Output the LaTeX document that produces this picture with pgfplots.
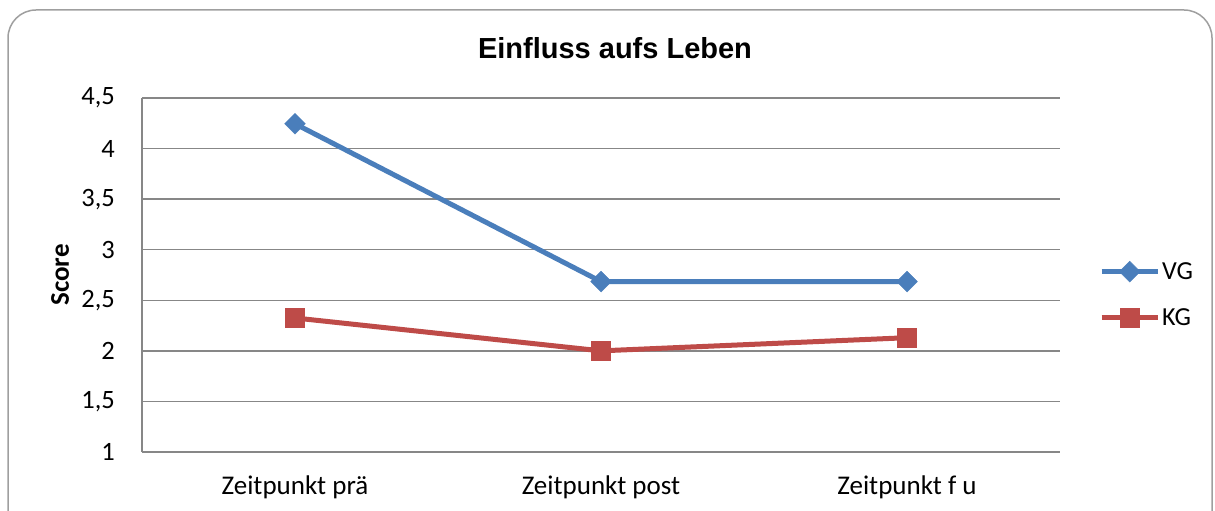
\documentclass[border=0pt]{standalone}
\usepackage{pgfplots}
\pgfplotsset{compat=1.18}
\usepackage{fontspec}
\setmainfont{Carlito}
\newfontfamily\titlefont{Liberation Sans}
\definecolor{vgblue}{HTML}{4A7EBB}
\definecolor{kgred}{HTML}{BE4B48}
\definecolor{gridgray}{HTML}{878787}
\begin{document}
\begin{tikzpicture}
\useasboundingbox (0pt,0pt) rectangle (1215pt,511pt);
\begin{scope}
\clip (0pt,0pt) rectangle (1215pt,511pt);
\draw[gridgray!80, line width=1.5pt, rounded corners=28pt] (8pt,-40pt) rectangle (1212pt,501pt);
\end{scope}
\begin{axis}[
  at={(142pt,59pt)}, anchor=south west,
  scale only axis, width=918pt, height=354pt,
  xmin=-0.5, xmax=2.5, ymin=1, ymax=4.5,
  xtick={0,1,2}, xticklabels={Zeitpunkt prä, Zeitpunkt post, Zeitpunkt f u},
  ytick={1,1.5,2,2.5,3,3.5,4,4.5},
  yticklabels={1,{1,5},2,{2,5},3,{3,5},4,{4,5}},
  major tick length=0pt,
  axis x line*=bottom, axis y line*=left,
  axis line style={gridgray, line width=1.5pt, -},
  ymajorgrids, grid style={gridgray, line width=1.5pt},
  tick label style={font=\fontsize{26.5}{30}\selectfont, inner sep=0pt},
  yticklabel style={anchor=east, xshift=-27pt},
  xticklabel style={anchor=north, yshift=-24pt, font=\fontsize{27}{31}\selectfont},
  ylabel={Score},
  every axis y label/.style={at={(axis description cs:-0.0893,0.5)}, rotate=90, anchor=center, font=\bfseries\fontsize{27}{31}\selectfont},
  title={Einfluss aufs Leben},
  every axis title/.style={at={(axis description cs:0.5,1)}, anchor=center, yshift=50pt, xshift=14pt, font=\titlefont\bfseries\fontsize{29}{33}\selectfont},
  legend style={at={(axis description cs:1.0425,0.446)}, anchor=west, draw=none, fill=none, inner sep=0pt, row sep=26pt, font=\fontsize{26}{30}\selectfont, nodes={inner xsep=2pt, inner ysep=0pt}},
  legend cell align=left,
  legend image code/.code={\draw[#1, mark repeat=2, mark phase=2] plot coordinates {(0pt,0pt) (28pt,0pt) (56pt,0pt)};},
]
\addplot[vgblue, line width=5pt, mark=square*, mark size=7.3pt, mark options={rotate=45, solid, line width=0.5pt, fill=vgblue}]
  coordinates {(0,4.245) (1,2.685) (2,2.685)};
\addlegendentry{VG}
\addplot[kgred, line width=5pt, mark=square*, mark size=9.5pt, mark options={solid, line width=0.5pt, fill=kgred}]
  coordinates {(0,2.325) (1,2.0) (2,2.13)};
\addlegendentry{KG}
\end{axis}
\end{tikzpicture}
\end{document}
